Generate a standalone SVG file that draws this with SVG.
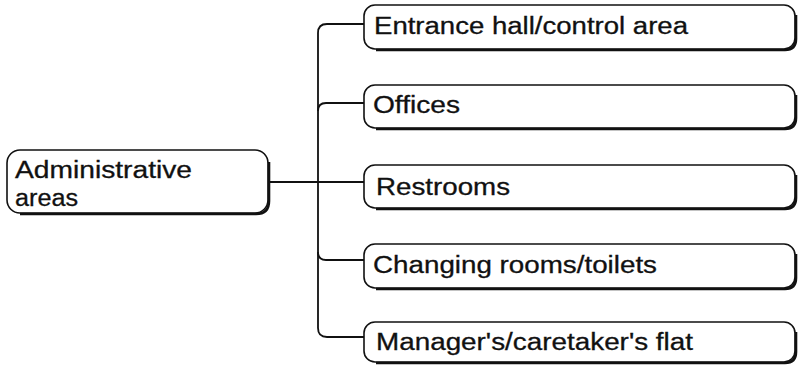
<svg xmlns="http://www.w3.org/2000/svg" width="798" height="365" viewBox="0 0 798 365">
  <style>
    .box { fill: #ffffff; stroke: #111111; stroke-width: 1.6; }
    .shadow { fill: none; stroke: #111111; stroke-width: 2.6; }
    .lbl { font-family: "Liberation Sans", Arial, sans-serif; font-size: 23px; fill: #111111; stroke: #111111; stroke-width: 0.3; }
    .conn { fill: none; stroke: #111111; stroke-width: 1.8; }
  </style>
  <rect width="798" height="365" fill="#ffffff"/>
  <g id="connectors">
    <path class="conn" d="M364,24 L327,24 Q318,24 318,33 L318,328 Q318,337 327,337 L364,337"/>
    <path class="conn" d="M318,111 Q318,103 326,103 L364,103"/>
    <path class="conn" d="M268,182 L364,182"/>
    <path class="conn" d="M318,252 Q318,260 326,260 L364,260"/>
  </g>
  <g id="node-admin">
    <rect class="box" x="7" y="150" width="261" height="63" rx="13"/>
    <path class="shadow" d="M20,214 L256,214 Q269,214 269,201 L269,162"/>
    <text class="lbl" x="15" y="178" textLength="177" lengthAdjust="spacingAndGlyphs">Administrative</text>
    <text class="lbl" x="15" y="206" textLength="63" lengthAdjust="spacingAndGlyphs">areas</text>
  </g>
  <g id="node-entrance">
    <rect class="box" x="364" y="5" width="431" height="44" rx="11"/>
    <path class="shadow" d="M376,50 L785,50 Q796,50 796,39 L796,15"/>
    <text class="lbl" x="374" y="34" textLength="314" lengthAdjust="spacingAndGlyphs">Entrance hall/control area</text>
  </g>
  <g id="node-offices">
    <rect class="box" x="364" y="85" width="431" height="43" rx="11"/>
    <path class="shadow" d="M376,129 L785,129 Q796,129 796,118 L796,95"/>
    <text class="lbl" x="373" y="113" textLength="87" lengthAdjust="spacingAndGlyphs">Offices</text>
  </g>
  <g id="node-restrooms">
    <rect class="box" x="364" y="165" width="431" height="43" rx="11"/>
    <path class="shadow" d="M376,209 L785,209 Q796,209 796,198 L796,175"/>
    <text class="lbl" x="376" y="195" textLength="134" lengthAdjust="spacingAndGlyphs">Restrooms</text>
  </g>
  <g id="node-changing">
    <rect class="box" x="364" y="244" width="431" height="44" rx="11"/>
    <path class="shadow" d="M376,289 L785,289 Q796,289 796,278 L796,254"/>
    <text class="lbl" x="373" y="273" textLength="284" lengthAdjust="spacingAndGlyphs">Changing rooms/toilets</text>
  </g>
  <g id="node-manager">
    <rect class="box" x="364" y="322" width="431" height="40" rx="11"/>
    <path class="shadow" d="M376,363 L785,363 Q796,363 796,352 L796,332"/>
    <text class="lbl" x="376" y="350" textLength="317" lengthAdjust="spacingAndGlyphs">Manager's/caretaker's flat</text>
  </g>
</svg>
